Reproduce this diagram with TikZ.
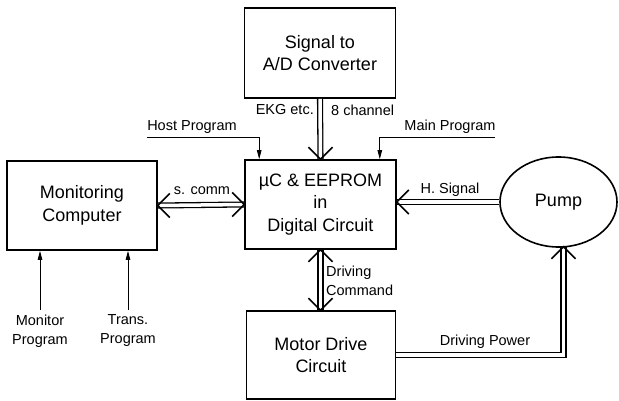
\documentclass[tikz,border=0pt]{standalone}
\usepackage{fontspec}
\setmainfont{Liberation Sans}
\usetikzlibrary{arrows.meta,shapes.geometric,calc}
\begin{document}
\begin{tikzpicture}[x=1pt,y=-1pt,
  box/.style={draw,line width=1.6pt,rectangle,align=center,inner sep=0pt,
    font=\fontsize{18}{22.5}\selectfont},
  lbl/.style={inner sep=0pt,align=center,font=\fontsize{14.5}{19}\selectfont},
  dbl/.style={draw,line width=1.3pt,double,double distance=3.5pt},
  vtip/.style={line width=1.6pt},
  prog/.style={line width=0.8pt,-{Triangle[length=9pt,width=4.5pt]}}]
\useasboundingbox (0,0) rectangle (619,401);
% nodes
\node[box,minimum width=151pt,minimum height=90pt] (sig) at (320,53) {Signal to\\A/D Converter};
\node[box,minimum width=151pt,minimum height=89pt] (dig) at (320.5,204.5) {µC \& EEPROM\\in\\Digital Circuit};
\node[box,minimum width=150pt,minimum height=89pt] (mon) at (82,205.5) {Monitoring\\Computer};
\node[box,minimum width=149pt,minimum height=88pt] (mot) at (321,355) {Motor Drive\\Circuit};
\node[draw,line width=1.6pt,ellipse,inner sep=0pt,minimum width=117pt,minimum height=90pt,
  font=\fontsize{18}{22.5}\selectfont] (pump) at (558.5,202) {Pump};
% double connectors
\draw[dbl] (sig.south) -- (dig.north);
\draw[dbl] (mon.east) -- (dig.west);
\draw[dbl] (pump.west) -- (pump.west -| dig.east);
\draw[dbl] (dig.south) -- (dig.south |- mot.north);
\draw[dbl] (mot.east) -| ($(pump.south)+(5,-1)$);
% open V tips
\draw[vtip] ($(dig.north)+(-12,-12)$) -- (dig.north) -- ++(12,-12);
\draw[vtip] ($(mon.east)+(12,-12)$) -- (mon.east) -- ++(12,12);
\draw[vtip] ($(dig.west)+(-12,-12)$) -- (dig.west) -- ++(-12,12);
\draw[vtip] ($(pump.west -| dig.east)+(12,-12)$) -- (pump.west -| dig.east) -- ++(12,12);
\draw[vtip] ($(dig.south)+(-12,12)$) -- (dig.south) -- ++(12,12);
\draw[vtip] ($(dig.south |- mot.north)+(-12,-12)$) -- (dig.south |- mot.north) -- ++(12,-12);
\draw[vtip] ($(pump.south)+(-7,11)$) -- ($(pump.south)+(5,-1)$) -- ++(12,12);
% program inputs
\coordinate (hostL) at (147,137);
\coordinate (mainR) at (495,137);
\coordinate (monB) at (40,310);
\coordinate (trB) at (128,310);
\draw[prog] (hostL) -| ($(dig.north west)+(15,0)$);
\draw[prog] (mainR) -| ($(dig.north east)+(-17,0)$);
\draw[prog] (monB) -- (monB |- mon.south);
\draw[prog] (trB) -- (trB |- mon.south);
% labels
\node[lbl,anchor=east] (lekg) at (314,110) {EKG etc.};
\node[lbl,anchor=west] (l8ch) at (331,110) {8 channel};
\node[lbl] (lhost) at (192,127) {Host Program};
\node[lbl] (lmain) at (450,127) {Main Program};
\node[lbl] (lsc) at (202,191) {s. comm};
\node[lbl] (lhs) at (450,190) {H. Signal};
\node[lbl,align=left,anchor=west] (ldc) at (326,281) {Driving\\Command};
\node[lbl] (ldp) at (485,342) {Driving Power};
\node[lbl] (lmp) at (40,331) {Monitor\\Program};
\node[lbl] (ltp) at (128,331) {Trans.\\Program};
\end{tikzpicture}
\end{document}
